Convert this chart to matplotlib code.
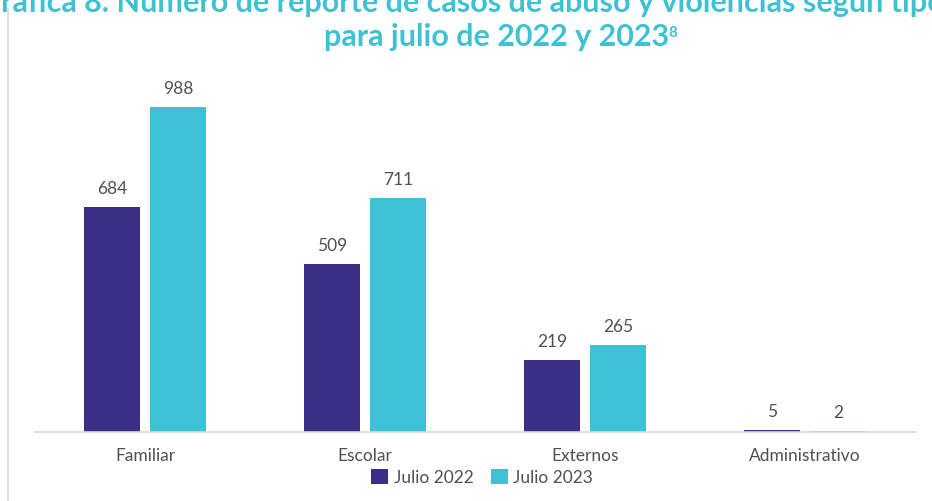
import matplotlib
matplotlib.use("Agg")
import matplotlib.pyplot as plt
import numpy as np

categories = ["Familiar", "Escolar", "Externos", "Administrativo"]
series_names = ["Julio 2022", "Julio 2023"]
values_2022 = [684, 509, 219, 5]
values_2023 = [988, 711, 265, 2]

c_dark = "#3B2E86"
c_light = "#3EC1D4"
c_text = "#505050"

plt.rcParams['font.family'] = ['Lato', 'DejaVu Sans']

fig = plt.figure(figsize=(9.32, 5.02), dpi=100)
ax = fig.add_axes([35/932, 69/502, 880/932, 362/502])

x = np.arange(len(categories))
w = 0.255
off = 0.15
b1 = ax.bar(x - off, values_2022, w, color=c_dark, label=series_names[0])
b2 = ax.bar(x + off, values_2023, w, color=c_light, label=series_names[1])

for bars, vals in ((b1, values_2022), (b2, values_2023)):
    for rect, v in zip(bars, vals):
        ax.annotate(f"{v}", (rect.get_x() + rect.get_width()/2, rect.get_height()),
                    xytext=(0, 8), textcoords="offset points", ha="center", va="bottom",
                    fontsize=12.5, color=c_text)

ax.set_xlim(-0.5, 3.5)
ax.set_ylim(0, 1100)
ax.set_xticks(x)
ax.set_xticklabels(categories, fontsize=12.5, color=c_text)
ax.tick_params(axis="x", length=0, pad=11)
ax.set_yticks([])
for s in ["top", "right", "left"]:
    ax.spines[s].set_visible(False)
ax.spines["bottom"].set_color("#D9D9D9")
ax.spines["bottom"].set_linewidth(1.2)

leg = fig.legend(loc="center", bbox_to_anchor=(482/932, 1 - 478/502), ncol=2, frameon=False,
                 fontsize=12.5, handlelength=1.0, handleheight=1.0, handletextpad=0.3,
                 columnspacing=1.0, labelcolor=c_text)

# left border line
fig.add_artist(plt.Line2D([8/932, 8/932], [0, 1 - 10/502], color="#D9D9D9", lw=1.2))

# title (top line cropped at the top edge, as in the reference)
fig.text(462/932, 1 - 3/502, "Gráfica 8. Número de reporte de casos de abuso y violencias según tipo",
         ha="center", va="center", fontsize=22, fontweight="bold", color=c_light)
t2 = fig.text(497/932, 1 - 37/502, "para julio de 2022 y 2023",
              ha="center", va="center", fontsize=22, fontweight="bold", color=c_light)
fig.canvas.draw()
bb = t2.get_window_extent()
fig.text((bb.x1 - 1) / fig.bbox.width, (bb.y1 - 3) / fig.bbox.height, "8", ha="left", va="top",
         fontsize=11, fontweight="bold", color=c_light)

fig.savefig("out.png", dpi=100)
